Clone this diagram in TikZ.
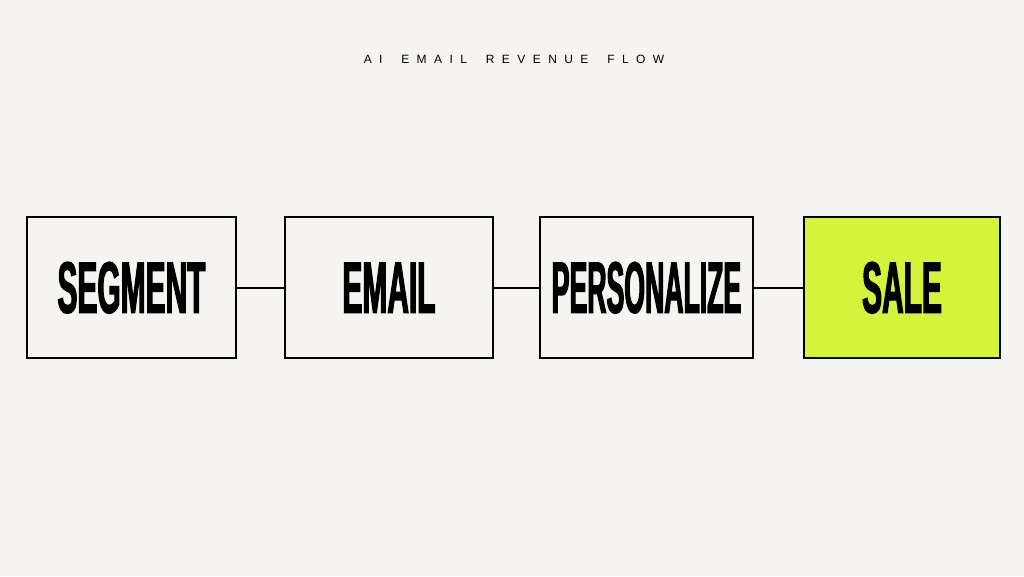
\documentclass[tikz,border=0pt]{standalone}
\usepackage{fontspec}
\newfontfamily\titlefont[LetterSpace=62]{Liberation Sans}
\newfontfamily\boxfont[FakeStretch=0.41,FakeBold=1.5]{Liberation Sans Bold}
\newfontfamily\slimboxfont[FakeStretch=0.365,FakeBold=1.5]{Liberation Sans Bold}
\newcommand{\wgap}{\hspace{8pt}}
\definecolor{paper}{RGB}{245,244,240}
\definecolor{lime}{RGB}{212,243,58}

\begin{document}
\begin{tikzpicture}[x=1pt,y=-1pt]

\tikzset{stage/.style = {shape=rectangle,draw,line width=1.5pt,minimum height=141pt,inner sep=0pt,font=\boxfont\fontsize{73}{73}\selectfont}}
\tikzset{link/.style = {line width=1.6pt}}
%background
\fill[paper] (0,0) rectangle (1024,576);
\node[font=\titlefont\fontsize{12}{12}\selectfont] (title) at (514,59) {AI \wgap EMAIL \wgap REVENUE \wgap FLOW};
%stages
\node[stage, minimum width=209pt] (segment) at (131.5,287.7) {SEGMENT};
\node[stage, minimum width=208pt] (email) at (389,287.7) {EMAIL};
\node[stage, minimum width=213pt, font=\slimboxfont\fontsize{73}{73}\selectfont] (personalize) at (646.5,287.7) {PERSONALIZE};
\node[stage, minimum width=196pt, fill=lime] (sale) at (902,287.7) {SALE};
%links
\draw [link] (segment) -- (email);
\draw [link] (email) -- (personalize);
\draw [link] (personalize) -- (sale);

\end{tikzpicture}
\end{document}
